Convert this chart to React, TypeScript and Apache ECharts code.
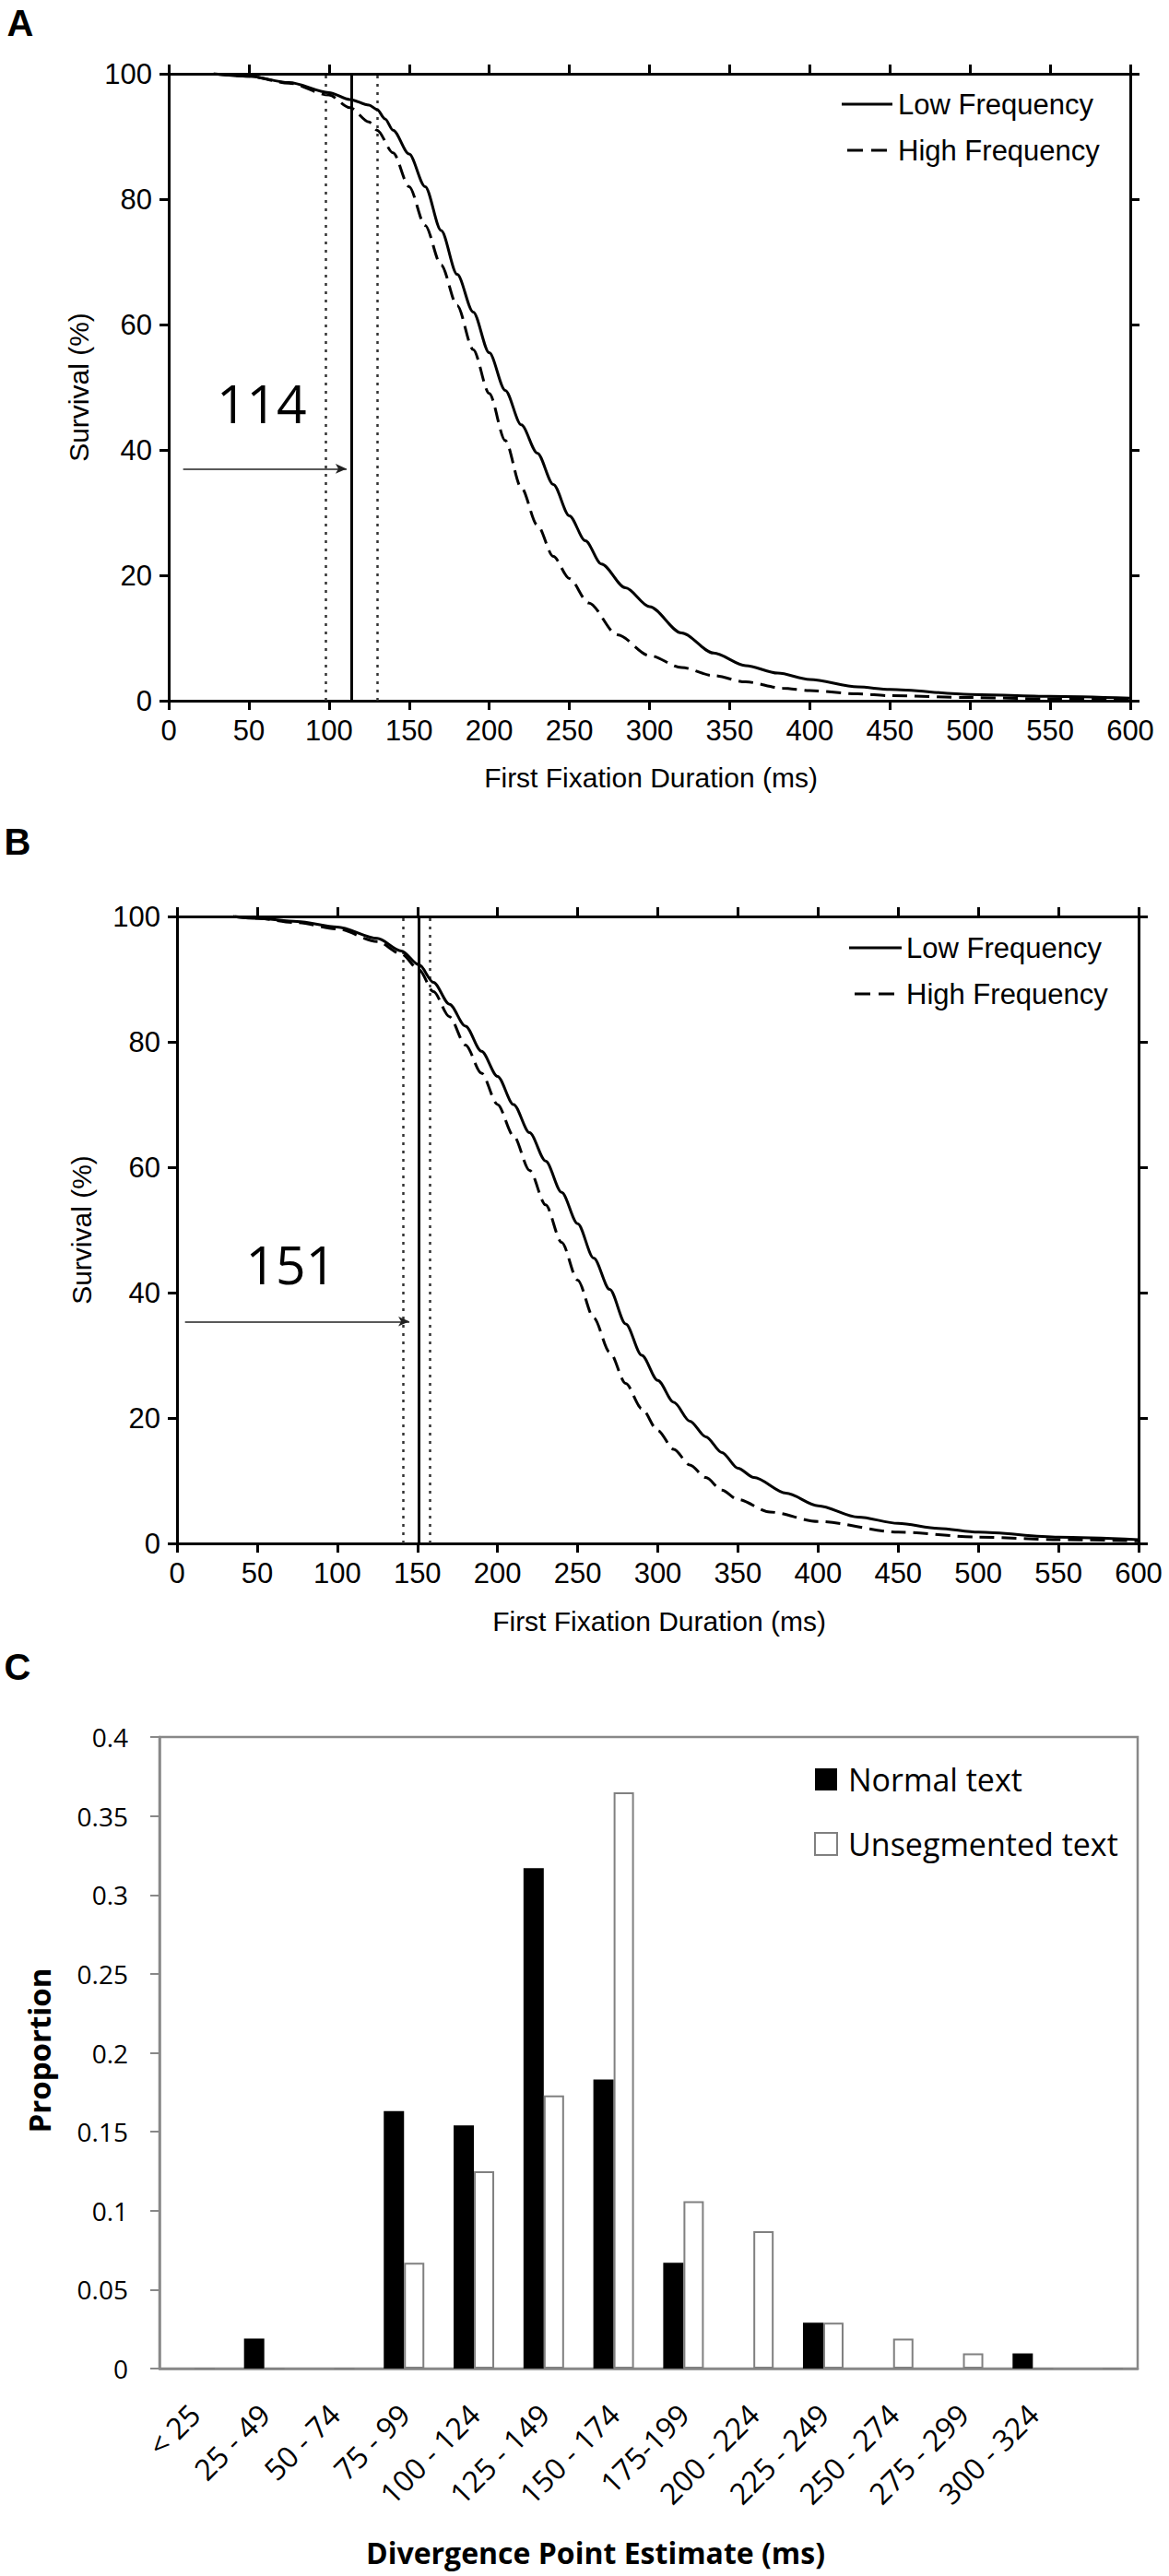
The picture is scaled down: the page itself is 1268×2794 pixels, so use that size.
import React, { useEffect, useRef } from "react";
import * as echarts from "echarts";

// ---------- Panel A / B : survival curves (x = ms, y = survival %) ----------
const lowFreqA: [number, number][] = [
  [28, 100], [50, 99.6], [75, 98.6], [100, 97], [113, 95.9], [125, 95], [130, 94.3],
  [135, 92.8], [140, 91], [150, 87.2], [160, 82], [170, 75], [180, 68], [190, 62],
  [200, 55.5], [210, 49.5], [220, 44], [230, 39.5], [240, 34.5], [250, 29.5], [260, 25.5],
  [270, 21.8], [285, 18], [300, 15], [320, 10.8], [340, 7.6], [360, 5.6], [380, 4.4],
  [400, 3.4], [430, 2.2], [450, 1.8], [500, 1.0], [550, 0.7], [600, 0.4],
];
const highFreqA: [number, number][] = [
  [28, 100], [50, 99.6], [75, 98.5], [100, 96.6], [113, 94.6], [125, 92.3], [130, 91],
  [140, 87.4], [150, 82], [160, 75.8], [170, 69.5], [180, 63], [190, 56], [200, 49],
  [210, 41.5], [220, 34], [230, 28], [240, 23], [250, 19.5], [262, 15.6], [280, 10.5],
  [300, 7.2], [320, 5.3], [340, 4], [360, 3], [383, 2], [400, 1.6], [430, 1.1],
  [450, 0.8], [500, 0.5], [550, 0.3], [600, 0.2],
];
const lowFreqB: [number, number][] = [
  [35, 100], [50, 99.7], [75, 99.2], [100, 98.3], [125, 96.5], [140, 94.5], [151, 92.3],
  [160, 89.5], [170, 86], [180, 82.5], [190, 78.5], [200, 74.5], [210, 70], [220, 65.5],
  [230, 61], [240, 56], [250, 51], [260, 45.5], [270, 40.5], [280, 35], [290, 30],
  [300, 26], [310, 22.5], [320, 19.5], [330, 17], [340, 14.5], [350, 12], [360, 10.5],
  [380, 8], [400, 6], [425, 4.2], [450, 3.2], [475, 2.4], [500, 1.8], [550, 1.0], [600, 0.6],
];
const highFreqB: [number, number][] = [
  [35, 100], [50, 99.7], [75, 99], [100, 98], [125, 96], [140, 94], [151, 91.5],
  [160, 88], [170, 84], [180, 79.5], [190, 75], [200, 70], [210, 65], [220, 59.5],
  [230, 54], [240, 48], [250, 42], [260, 36], [270, 30.5], [280, 25.5], [290, 21.5],
  [300, 18], [310, 15], [320, 12.5], [330, 10.5], [340, 8.5], [350, 7], [370, 5],
  [400, 3.5], [450, 1.8], [500, 1.0], [550, 0.6], [600, 0.4],
];

// divergence point estimates: [lower CI, estimate, upper CI]
const divergenceA = [98, 114, 130];
const divergenceB = [141, 151, 158];
// annotation arrows: [from ms, to ms, at survival %]
const arrowA = [9, 111, 37];
const arrowB = [5, 145, 35.4];
// annotation label positions [ms, %]
const labelPosA = [58, 47.5];
const labelPosB = [71, 44.5];

const seriesNames = ["Low Frequency", "High Frequency"];
const survivalTitle = "Survival (%)";
const durationTitle = "First Fixation Duration (ms)";

// ---------- Panel C : divergence point distribution ----------
const binLabels = [
  "< 25", "25 - 49", "50 - 74", "75 - 99", "100 - 124", "125 - 149", "150 - 174",
  "175-199", "200 - 224", "225 - 249", "250 - 274", "275 - 299", "300 - 324", "",
];
const normalText = [0, 0.019, 0, 0.163, 0.154, 0.317, 0.183, 0.067, 0, 0.029, 0, 0, 0.0096, 0];
const unsegmentedText = [0, 0, 0, 0.067, 0.125, 0.173, 0.365, 0.106, 0.087, 0.029, 0.019, 0.0096, 0, 0];
const barSeriesNames = ["Normal text", "Unsegmented text"];

const ARIAL = "'Liberation Sans', Arial, sans-serif";
const CALIBRI = "'Open Sans', 'Noto Sans', sans-serif";

function survivalAxes(gridIndex: number) {
  const xBase = {
    type: "value" as const,
    gridIndex,
    min: 0,
    max: 600,
    interval: 50,
    splitLine: { show: false },
    axisLine: { show: true, onZero: false, lineStyle: { color: "#000", width: 3 } },
    axisTick: { show: true, length: 10, lineStyle: { color: "#000", width: 3 } },
  };
  const yBase = {
    type: "value" as const,
    gridIndex,
    min: 0,
    max: 100,
    interval: 20,
    splitLine: { show: false },
    axisLine: { show: true, onZero: false, lineStyle: { color: "#000", width: 3 } },
    axisTick: { show: true, length: 10, lineStyle: { color: "#000", width: 3 } },
  };
  return {
    x: [
      {
        ...xBase,
        position: "bottom",
        axisLabel: { show: true, fontSize: 31, fontFamily: ARIAL, color: "#000", margin: 17 },
      },
      { ...xBase, position: "top", axisLabel: { show: false } },
    ],
    y: [
      {
        ...yBase,
        position: "left",
        axisLabel: { show: true, fontSize: 31, fontFamily: ARIAL, color: "#000", margin: 18 },
      },
      { ...yBase, position: "right", axisLabel: { show: false } },
    ],
  };
}

function survivalSeries(
  low: [number, number][],
  high: [number, number][],
  axisIdx: number,
  div: number[],
  arrow: number[],
  labelPos: number[]
) {
  const dotted = { color: "#333", width: 2.5, type: [3, 6] };
  return [
    {
      name: seriesNames[0],
      type: "line",
      xAxisIndex: axisIdx,
      yAxisIndex: axisIdx,
      data: low,
      showSymbol: false,
      smooth: 0.3,
      smoothMonotone: "x",
      lineStyle: { color: "#000", width: 3, type: "solid" },
      z: 5,
      markLine: {
        silent: true,
        symbol: ["none", "none"],
        label: { show: false },
        data: [
          { xAxis: div[1], lineStyle: { color: "#000", width: 3, type: "solid" } },
          { xAxis: div[0], lineStyle: dotted },
          { xAxis: div[2], lineStyle: dotted },
          [
            {
              coord: [arrow[0], arrow[2]],
              symbol: "none",
              lineStyle: { color: "#222", width: 1.6, type: "solid" },
            },
            {
              coord: [arrow[1], arrow[2]],
              symbol: "arrow",
              symbolSize: [8, 12],
              lineStyle: { color: "#222", width: 1.6, type: "solid" },
            },
          ],
        ],
      },
      markPoint: {
        silent: true,
        symbol: "circle",
        symbolSize: 1,
        itemStyle: { color: "transparent" },
        label: {
          show: true,
          position: "inside",
          formatter: String(div[1]),
          fontSize: 57,
          fontFamily: CALIBRI,
          color: "#000",
        },
        data: [{ coord: labelPos }],
      },
    },
    {
      name: seriesNames[1],
      type: "line",
      xAxisIndex: axisIdx,
      yAxisIndex: axisIdx,
      data: high,
      showSymbol: false,
      smooth: 0.3,
      smoothMonotone: "x",
      lineStyle: { color: "#000", width: 3, type: [16, 8] },
      z: 4,
    },
  ];
}

function legendGraphic(x1: number, x2: number, y: number, textX: number, rowGap: number) {
  return [
    {
      type: "line",
      shape: { x1, y1: y, x2, y2: y },
      style: { stroke: "#000", lineWidth: 3 },
    },
    {
      type: "line",
      shape: { x1: x1 + 6, y1: y + rowGap, x2: x2 - 4, y2: y + rowGap },
      style: { stroke: "#000", lineWidth: 3, lineDash: [17, 9] },
    },
    {
      type: "text",
      x: textX,
      y,
      style: {
        text: seriesNames[0],
        fontSize: 31,
        fontFamily: ARIAL,
        fill: "#000",
        textAlign: "left",
        textVerticalAlign: "middle",
      },
    },
    {
      type: "text",
      x: textX,
      y: y + rowGap,
      style: {
        text: seriesNames[1],
        fontSize: 31,
        fontFamily: ARIAL,
        fill: "#000",
        textAlign: "left",
        textVerticalAlign: "middle",
      },
    },
  ];
}

function textEl(text: string, x: number, y: number, font: string, size: number, weight: string, rot = 0) {
  return {
    type: "text",
    x,
    y,
    rotation: rot,
    style: {
      text,
      fontSize: size,
      fontFamily: font,
      fontWeight: weight,
      fill: "#000",
      textAlign: "center",
      textVerticalAlign: "middle",
    },
  };
}

export default function App() {
  const ref = useRef<HTMLDivElement>(null);

  useEffect(() => {
    if (!ref.current) return;
    const chart = echarts.init(ref.current, null, { renderer: "svg" });
    const a = survivalAxes(0);
    const b = survivalAxes(1);

    const option: any = {
      animation: false,
      backgroundColor: "#fff",
      grid: [
        { left: 183, right: 42, top: 80, height: 680 },
        { left: 192, right: 33, top: 994, height: 680 },
        {
          left: 173,
          right: 34,
          top: 1884,
          height: 685,
          show: true,
          borderColor: "#888",
          borderWidth: 2.5,
          backgroundColor: "transparent",
        },
      ],
      xAxis: [
        ...a.x,
        ...b.x.map((o: any) => ({ ...o, gridIndex: 1 })),
        {
          type: "category",
          gridIndex: 2,
          data: binLabels,
          boundaryGap: true,
          axisLine: { show: true, lineStyle: { color: "#888", width: 2.5 } },
          axisTick: { show: false },
          axisLabel: {
            show: true,
            interval: 0,
            rotate: 45,
            margin: 44,
            fontSize: 32,
            fontFamily: CALIBRI,
            color: "#000",
          },
          splitLine: { show: false },
        },
      ],
      yAxis: [
        ...a.y,
        ...b.y.map((o: any) => ({ ...o, gridIndex: 1 })),
        {
          type: "value",
          gridIndex: 2,
          min: 0,
          max: 0.4,
          interval: 0.05,
          splitLine: { show: false },
          axisLine: { show: true, lineStyle: { color: "#888", width: 2.5 } },
          axisTick: { show: true, length: 10, lineStyle: { color: "#888", width: 2 } },
          axisLabel: {
            show: true,
            margin: 34,
            fontSize: 28,
            fontFamily: CALIBRI,
            color: "#000",
          },
        },
      ],
      legend: {
        data: barSeriesNames,
        orient: "vertical",
        left: 878,
        top: 1908,
        itemWidth: 24,
        itemHeight: 24,
        itemGap: 36,
        icon: "rect",
        selectedMode: false,
        textStyle: { fontSize: 34, fontFamily: CALIBRI, color: "#000", padding: [0, 0, 0, 7] },
      },
      series: [
        ...survivalSeries(lowFreqA, highFreqA, 0, divergenceA, arrowA, labelPosA),
        ...survivalSeries(lowFreqB, highFreqB, 2, divergenceB, arrowB, labelPosB),
        {
          name: barSeriesNames[0],
          type: "bar",
          xAxisIndex: 4,
          yAxisIndex: 4,
          data: normalText,
          barWidth: 22,
          barGap: "0%",
          itemStyle: { color: "#000", borderColor: "#000", borderWidth: 0 },
        },
        {
          name: barSeriesNames[1],
          type: "bar",
          xAxisIndex: 4,
          yAxisIndex: 4,
          data: unsegmentedText,
          barWidth: 22,
          barGap: "0%",
          itemStyle: { color: "#fff", borderColor: "#808080", borderWidth: 2 },
        },
      ],
      graphic: [
        textEl("A", 22, 25, ARIAL, 40, "bold"),
        textEl("B", 19, 913, ARIAL, 40, "bold"),
        textEl("C", 19, 1808, ARIAL, 40, "bold"),
        textEl(survivalTitle, 85, 420, ARIAL, 30, "normal", Math.PI / 2),
        textEl(survivalTitle, 88, 1334, ARIAL, 30, "normal", Math.PI / 2),
        textEl(durationTitle, 706, 843, ARIAL, 30, "normal"),
        textEl(durationTitle, 715, 1758, ARIAL, 30, "normal"),
        textEl("Proportion", 42, 2224, CALIBRI, 33, "bold", Math.PI / 2),
        textEl("Divergence Point Estimate (ms)", 646, 2768, CALIBRI, 32, "bold"),
        ...legendGraphic(913, 968, 113, 974, 50),
        ...legendGraphic(921, 978, 1028, 983, 50),
      ],
    };

    chart.setOption(option);
    return () => chart.dispose();
  }, []);

  return (
    <div
      ref={ref}
      style={{ position: "absolute", left: 0, top: 0, width: 1268, height: 2794 }}
    />
  );
}
